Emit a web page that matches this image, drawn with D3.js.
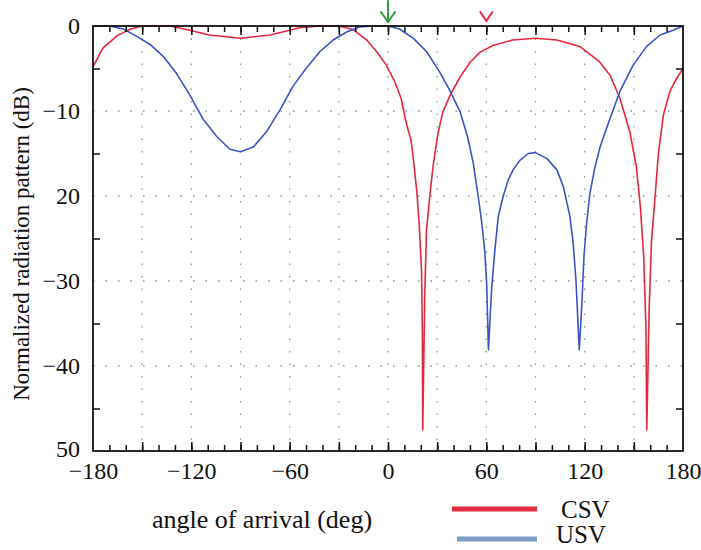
<!DOCTYPE html>
<html>
<head>
<meta charset="utf-8">
<script src="https://cdn.jsdelivr.net/npm/d3@7"></script>
<style>
  body { margin: 0; background: #fff; }
  svg text { font-family: "Liberation Serif", "Times New Roman", serif; fill: #111; }
</style>
</head>
<body>
<svg id="chart" width="701" height="550"></svg>
<script>
"use strict";

// angle of arrival (deg) and normalized pattern (dB)
var csvAngle = [-180, -174, -165, -157, -150, -140, -133, -121, -109, -90, -72, -60, -54, -42, -30, -21, -13, -7, -1, 4, 8, 11, 14, 15.4, 17.5, 19, 20.5, 21, 21.2,
  22.5, 23.5, 25.5, 27.5, 30.5, 33.5, 38, 44, 50, 56, 64, 76, 90, 103, 117, 129, 135.5, 141.5, 147.5, 151.5, 154, 156, 157.4, 157.9,
  159.4, 160.8, 163, 165, 168, 172, 176, 180];
var csvValue = [-4.8, -2.6, -1.1, -0.35, 0, 0, 0, -0.5, -1.05, -1.45, -1.05, -0.5, -0.2, 0, 0, -0.45, -1.65, -3.0, -4.6, -6.5, -8.5, -11.3, -13.4, -15.5, -19.3, -23.2, -29, -37, -47.5,
  -31, -24, -20, -16.5, -12.6, -10.1, -8.1, -6, -4.3, -3.1, -2.3, -1.65, -1.45, -1.65, -2.4, -4.2, -5.8, -8.5, -12.4, -16.5, -21.3, -27, -35.6, -47.5,
  -33, -25.2, -20, -15, -10.5, -7.7, -6.2, -5];

var usvAngle = [-180, -170, -161.5, -153, -145, -137, -129, -121, -113, -104.5, -96.5, -90, -82, -74, -66, -58, -50, -41.5, -33.5, -25, -17, -10, 0,
  7, 15.5, 23.5, 31.5, 38, 44, 48.5, 52, 55, 57, 59, 60.2, 61.3, 63.2, 65.2, 67.3, 70.3, 73.4, 76.4, 80.5, 85.6, 90,
  97, 103, 107, 111, 113, 114.7, 116.7, 118.2, 119.6, 121.2, 123.2, 126.3, 129.3, 135.4, 141.5, 149.6, 157.8, 166, 174, 180];
var usvValue = [0, 0, -0.35, -1.25, -2.2, -3.6, -5.6, -8.1, -10.9, -13, -14.5, -14.8, -14.2, -12.4, -9.9, -7.1, -5, -3, -1.65, -0.67, -0.1, 0, 0,
  -0.35, -1.45, -3, -5.4, -7.7, -10.1, -13, -16.1, -20, -22.8, -26.4, -30.3, -38.1, -31, -26.4, -22.4, -20, -18.1, -16.9, -15.8, -15, -14.9,
  -15.6, -16.9, -18.9, -22.4, -25.6, -29.9, -38.1, -33, -27, -23.2, -19.7, -16.6, -14.3, -10.9, -7.7, -4.6, -2.4, -1.06, -0.5, 0];

var xTickValues = [-180, -120, -60, 0, 60, 120, 180];
var xTickLabels = ["\u2212180", "\u2212120", "\u221260", "0", "60", "120", "180"];
var yTickValues = [0, -10, -20, -30, -40, -50];
var yTickLabels = ["0", "\u221210", "20", "\u221230", "\u221240", "50"];

var seriesNames = ["CSV", "USV"];
var lineColors = ["#e5283f", "#3c54c4"];
var legendColors = ["#e22a40", "#7f9dc6"];

var margin = {left: 93, top: 26, right: 18, bottom: 99};
var svg = d3.select("#chart");
var W = 701 - margin.left - margin.right,
    H = 550 - margin.top - margin.bottom;

var x = d3.scaleLinear().domain([-180, 180]).range([0, W]);
var y = d3.scaleLinear().domain([-50, 0]).range([H, 0]);

var g = svg.append("g").attr("transform", "translate(" + margin.left + "," + margin.top + ")");

// dotted grid
g.append("g").selectAll("line")
  .data(d3.range(-150, 180, 30))
  .enter().append("line")
    .attr("x1", function(d) { return x(d); })
    .attr("x2", function(d) { return x(d); })
    .attr("y1", 0).attr("y2", H)
    .attr("stroke", "#8a9a88").attr("stroke-width", 1.3)
    .attr("stroke-dasharray", "1.5,11");
g.append("g").selectAll("line")
  .data(d3.range(-40, 0, 10))
  .enter().append("line")
    .attr("y1", function(d) { return y(d); })
    .attr("y2", function(d) { return y(d); })
    .attr("x1", 0).attr("x2", W)
    .attr("stroke", "#8a9a88").attr("stroke-width", 1.3)
    .attr("stroke-dasharray", "1.5,11");

// curves
var line = d3.line()
  .x(function(d) { return x(d[0]); })
  .y(function(d) { return y(d[1]); });

var series = [
  d3.zip(csvAngle, csvValue),
  d3.zip(usvAngle, usvValue)
];
g.selectAll(".curve")
  .data(series)
  .enter().append("path")
    .attr("class", "curve")
    .attr("d", line)
    .attr("fill", "none")
    .attr("stroke", function(d, i) { return lineColors[i]; })
    .attr("stroke-width", 1.6)
    .attr("stroke-linejoin", "round");

// ticks (inward), minor every 10 deg, major every 30 deg
var minorX = d3.range(-170, 180, 10),
    majorX = d3.range(-150, 180, 30),
    minorY = d3.range(-45, 0, 10);

function tickAxis(axis, vals, size) {
  return axis.tickValues(vals).tickSize(size).tickFormat("");
}
g.append("g").attr("transform", "translate(0," + H + ")").call(tickAxis(d3.axisBottom(x), minorX, -6));
g.append("g").attr("transform", "translate(0," + H + ")").call(tickAxis(d3.axisBottom(x), majorX, -9));
g.append("g").call(tickAxis(d3.axisTop(x), minorX, -6));
g.append("g").call(tickAxis(d3.axisTop(x), majorX, -9));
g.append("g").call(tickAxis(d3.axisLeft(y), minorY, -7));
g.append("g").attr("transform", "translate(" + W + ",0)").call(tickAxis(d3.axisRight(y), minorY, -7));
g.selectAll(".domain").remove();
g.selectAll(".tick line").attr("stroke", "#111").attr("stroke-width", 1.5);

// frame
g.append("rect")
  .attr("width", W).attr("height", H)
  .attr("fill", "none").attr("stroke", "#111").attr("stroke-width", 1.8);

// tick labels
var xLab = d3.axisBottom(x).tickValues(xTickValues).tickSize(0).tickPadding(11)
  .tickFormat(function(d, i) { return xTickLabels[i]; });
var xg = g.append("g").attr("transform", "translate(0," + H + ")").call(xLab);
var yLab = d3.axisLeft(y).tickValues(yTickValues).tickSize(0).tickPadding(13)
  .tickFormat(function(d, i) { return yTickLabels[i]; });
var yg = g.append("g").call(yLab);
[xg, yg].forEach(function(a) {
  a.select(".domain").remove();
  a.selectAll("text").attr("font-size", 24).attr("font-family", "Liberation Serif, serif").attr("fill", "#111");
});
// bottom "50" sits a little higher so it clears "−180"
yg.selectAll(".tick").filter(function(d) { return d === -50; }).select("text").attr("dy", "0.22em");

// axis titles
svg.append("text")
  .attr("x", 262).attr("y", 528)
  .attr("text-anchor", "middle")
  .attr("font-size", 26)
  .text("angle of arrival (deg)");
svg.append("text")
  .attr("transform", "translate(29,244) rotate(-90)")
  .attr("text-anchor", "middle")
  .attr("font-size", 23)
  .text("Normalized radiation pattern (dB)");

// markers above the plot
var mk = svg.append("g").attr("fill", "none").attr("stroke-linecap", "round");
mk.append("path")
  .attr("d", "M" + (margin.left + x(0)) + ",1V22M" + (margin.left + x(0) - 7) + ",12L" + (margin.left + x(0)) + ",22L" + (margin.left + x(0) + 7) + ",12")
  .attr("stroke", "#2e9a3c").attr("stroke-width", 2);
mk.append("path")
  .attr("d", "M" + (margin.left + x(60) - 6) + ",12L" + (margin.left + x(60)) + ",21L" + (margin.left + x(60) + 6) + ",12")
  .attr("stroke", "#e5283f").attr("stroke-width", 2);

// legend
var leg = svg.append("g");
var legY = [509, 539];
var legX = [[452, 537], [457, 537]];
seriesNames.forEach(function(name, i) {
  leg.append("line")
    .attr("x1", legX[i][0]).attr("x2", legX[i][1])
    .attr("y1", legY[i]).attr("y2", legY[i])
    .attr("stroke", legendColors[i]).attr("stroke-width", 5);
  leg.append("text")
    .attr("x", i === 0 ? 561 : 556).attr("y", i === 0 ? legY[i] + 9 : 543)
    .attr("font-size", 25)
    .text(name);
});
</script>
</body>
</html>
